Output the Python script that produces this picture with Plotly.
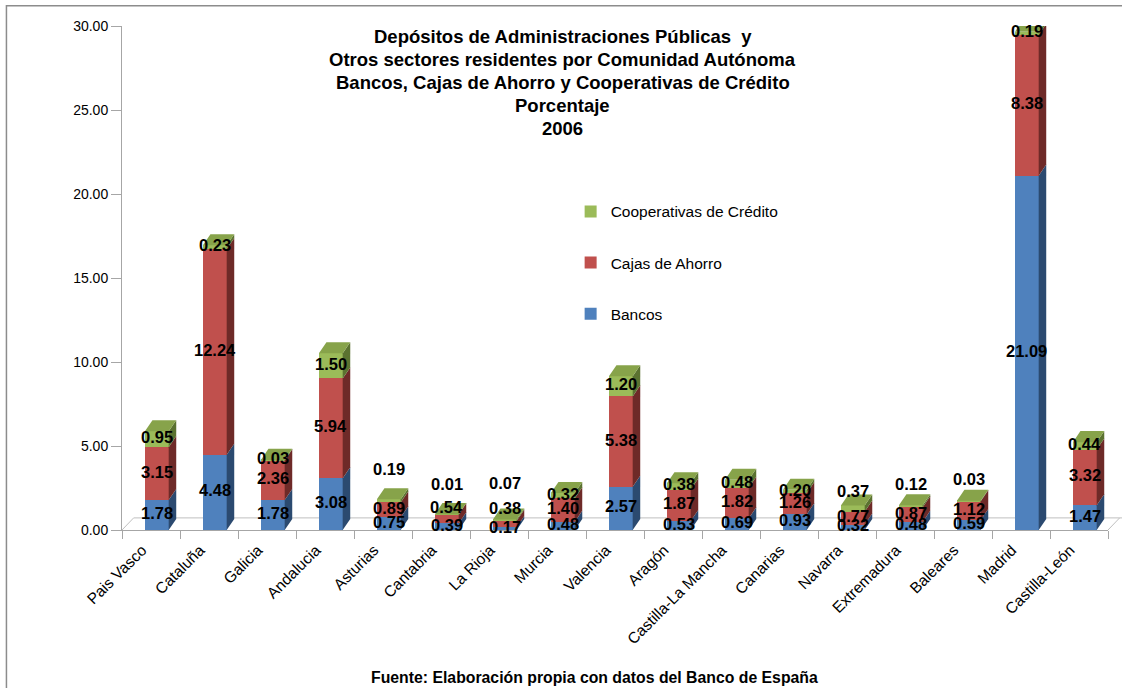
import plotly.graph_objects as go

categories = ["Pais Vasco", "Cataluña", "Galicia", "Andalucia", "Asturias", "Cantabria",
              "La Rioja", "Murcia", "Valencia", "Aragón", "Castilla-La Mancha", "Canarias",
              "Navarra", "Extremadura", "Baleares", "Madrid", "Castilla-León"]
bancos = [1.78, 4.48, 1.78, 3.08, 0.75, 0.39, 0.17, 0.48, 2.57, 0.53, 0.69, 0.93,
          0.32, 0.48, 0.59, 21.09, 1.47]
cajas = [3.15, 12.24, 2.36, 5.94, 0.89, 0.54, 0.38, 1.40, 5.38, 1.87, 1.82, 1.26,
         0.77, 0.87, 1.12, 8.38, 3.32]
cooperativas = [0.95, 0.23, 0.03, 1.50, 0.19, 0.01, 0.07, 0.32, 1.20, 0.38, 0.48, 0.20,
                0.37, 0.12, 0.03, 0.19, 0.44]
y_ticks = [0, 5, 10, 15, 20, 25, 30]
title_lines = ["Depósitos de Administraciones Públicas  y",
               "Otros sectores residentes por Comunidad Autónoma",
               "Bancos, Cajas de Ahorro y Cooperativas de Crédito",
               "Porcentaje", "2006"]

series = [
    ("Bancos", bancos, "#4F81BD", "#2B4A70", 3),
    ("Cajas de Ahorro", cajas, "#C0504D", "#6E2A28", 2),
    ("Cooperativas de Crédito", cooperativas, "#9BBB59", "#5B7230", 1),
]
# manual label lifts (pixels) for labels that Excel moved above the bars
label_lift = {
    ("Cooperativas de Crédito", 4): 30, ("Cooperativas de Crédito", 5): 28,
    ("Cooperativas de Crédito", 6): 35, ("Cooperativas de Crédito", 12): 16,
    ("Cooperativas de Crédito", 13): 20, ("Cooperativas de Crédito", 14): 20,
    ("Cajas de Ahorro", 5): 10, ("Cajas de Ahorro", 6): 14,
}

FONT = "Liberation Sans, Arial, sans-serif"
W = 0.41      # bar width (category units)
SH = 0.10     # 3D shift of bars to the right of category centre
DX = 0.13     # 3D depth in x
DY = 0.66     # 3D depth in y
idx = list(range(len(categories)))

fig = go.Figure()
shapes = []
annotations = []
base = [0.0] * len(categories)
for name, vals, col, side, rank in series:
    fig.add_trace(go.Bar(
        x=idx, y=vals, base=base[:], name=name, width=W, offset=-W / 2 + SH,
        marker=dict(color=col, line=dict(width=0)),
        legendgroup=name, legendrank=rank, hoverinfo="y+name",
    ))
    for i, v in enumerate(vals):
        b = base[i]
        t = b + v
        xr = i + SH + W / 2
        shapes.append(dict(
            type="path", xref="x", yref="y", layer="above",
            path=f"M {xr},{b} L {xr+DX},{b+DY} L {xr+DX},{t+DY} L {xr},{t} Z",
            fillcolor=side, line=dict(width=0)))
        annotations.append(dict(
            x=i + SH, y=(b + t) / 2, xref="x", yref="y", text=f"{v:.2f}", showarrow=False,
            yshift=2 + label_lift.get((name, i), 0),
            font=dict(family=FONT, size=16.5, color="black", weight="bold")))
        base[i] = t
# top faces
for i, T in enumerate(base):
    xl, xr = i + SH - W / 2, i + SH + W / 2
    shapes.append(dict(
        type="path", xref="x", yref="y", layer="above",
        path=f"M {xl},{T} L {xl+DX},{T+DY} L {xr+DX},{T+DY} L {xr},{T} Z",
        fillcolor="#87A34A", line=dict(width=0)))

# 3D floor: back line and side diagonals
shapes.append(dict(type="line", xref="paper", yref="y", x0=0.0118, x1=1.03, y0=0.72, y1=0.72,
                   line=dict(color="#BFBFBF", width=1), layer="below"))
shapes.append(dict(type="line", xref="paper", yref="y", x0=0.0, x1=0.0118, y0=0, y1=0.72,
                   line=dict(color="#BFBFBF", width=1), layer="below"))
shapes.append(dict(type="line", xref="paper", yref="y", x0=1.0, x1=1.0118, y0=0, y1=0.72,
                   line=dict(color="#BFBFBF", width=1), layer="below"))
# outer border
shapes.append(dict(type="rect", xref="paper", yref="paper", x0=-0.1172, x1=1.05,
                   y0=-0.45, y1=1.04, line=dict(color="#8C8C8C", width=1.5),
                   fillcolor="rgba(0,0,0,0)", layer="below"))

for k, line in enumerate(title_lines):
    annotations.append(dict(
        x=0.447, y=1.0, xref="paper", yref="paper", xanchor="center", yanchor="top",
        yshift=2 - 23.0 * k, showarrow=False, text=line,
        font=dict(family=FONT, size=18.5, color="black", weight="bold")))
annotations.append(dict(
    x=0.479, y=-0.293, xref="paper", yref="paper", xanchor="center", yanchor="middle",
    showarrow=False, text="Fuente: Elaboración propia con datos del Banco de España",
    font=dict(family=FONT, size=15.8, color="black", weight="bold")))

fig.update_layout(
    width=1122, height=688,
    margin=dict(l=122, r=14, t=26, b=158),
    paper_bgcolor="white", plot_bgcolor="white",
    barmode="overlay", bargap=0,
    shapes=shapes, annotations=annotations,
    showlegend=True,
    legend=dict(x=0.455, y=0.665, xanchor="left", yanchor="top",
                traceorder="grouped", tracegroupgap=28, itemwidth=30,
                font=dict(family=FONT, size=15.5, color="black"), bgcolor="rgba(0,0,0,0)"),
    xaxis=dict(range=[-0.5, 16.5], tickvals=idx, ticktext=categories, tickangle=-45,
               ticks="", showgrid=False, zeroline=False, showline=True,
               linecolor="#A6A6A6", ticklabelshift=-9, ticklabelstandoff=4,
               minor=dict(tickvals=[i - 0.5 for i in idx] + [16.5], ticks="outside",
                          ticklen=8, tickcolor="#A6A6A6", showgrid=False),
               tickfont=dict(family=FONT, size=15.5, color="black")),
    yaxis=dict(range=[0, 30], tickvals=y_ticks, tickformat=".2f", ticks="outside",
               ticklen=10, tickcolor="#A6A6A6", showline=True, linecolor="#A6A6A6",
               showgrid=False, zeroline=False,
               tickfont=dict(family=FONT, size=14, color="black")),
)

fig.write_html("out.html")
